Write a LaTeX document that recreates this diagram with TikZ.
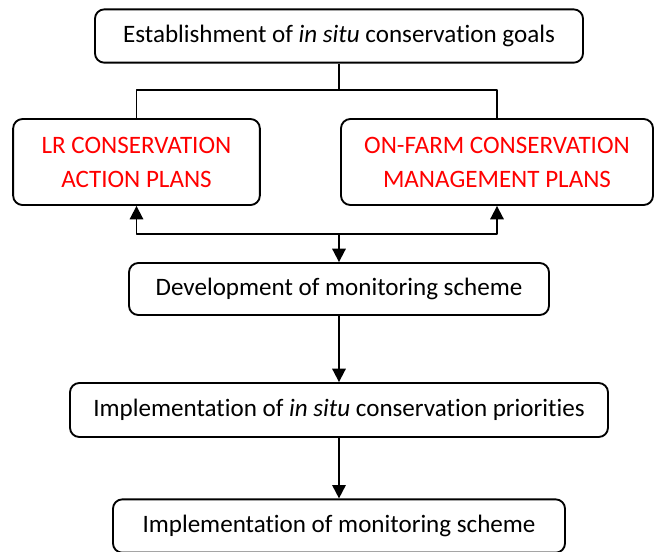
\documentclass[tikz,border=0pt]{standalone}
\usepackage{fontspec}
\setmainfont{Carlito}[Ligatures=NoCommon]
\usetikzlibrary{arrows.meta}
\tikzset{
  box/.style={draw, rounded corners=7pt, align=center, inner sep=0pt},
  redbox/.style={box, text=red}
}
\begin{document}
\begin{tikzpicture}[x=0.75pt, y=-0.75pt, line width=1.4pt, line join=round, >={Triangle[width=10pt,length=10pt]}, font=\fontsize{18.8}{25.5}\selectfont]
	\useasboundingbox (0,0) rectangle (654,551);
	% boxes
	\node[box, minimum width=366pt, minimum height=40pt] (goals) at (339,36) {Establishment of \textit{in situ} conservation goals};
	\node[redbox, minimum width=185pt, minimum height=64.5pt] (lr) at (136.5,162) {\raisebox{-3pt}{LR CONSERVATION}\\\raisebox{-3pt}{ACTION PLANS}};
	\node[redbox, minimum width=234pt, minimum height=64.5pt] (farm) at (497,162) {\raisebox{-3pt}{ON-FARM CONSERVATION}\\\raisebox{-3pt}{MANAGEMENT PLANS}};
	\node[box, minimum width=315pt, minimum height=39pt] (dev) at (339,289) {Development of monitoring scheme};
	\node[box, minimum width=403.5pt, minimum height=40.5pt] (impl) at (339,410) {Implementation of \textit{in situ} conservation priorities};
	\node[box, minimum width=339pt, minimum height=40pt] (mon) at (339,526) {Implementation of monitoring scheme};
	% connectors
	\coordinate (split) at (339,90);
	\coordinate (join) at (339,234);
	\draw (goals.south) -- (split);
	\draw (lr.north) |- (split) -| (farm.north);
	\draw[<->] (lr.south) |- (join) -| (farm.south);
	\draw[->] (join) -- (dev.north);
	\draw[->] (dev) -- (impl);
	\draw[->] (impl) -- (mon);
\end{tikzpicture}
\end{document}
